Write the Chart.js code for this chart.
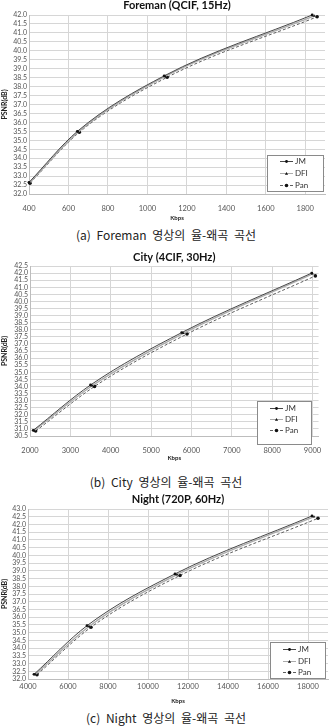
<!DOCTYPE html>
<html>
<head>
<meta charset="utf-8">
<script src="https://cdn.jsdelivr.net/npm/chart.js@4/dist/chart.umd.min.js"></script>
<style>
  body { margin: 0; background: #fff; width: 332px; height: 727px; position: relative; overflow: hidden; }
  .wrap { position: absolute; left: 0; width: 332px; }
  .cap { position: absolute; left: 0; width: 332px; text-align: center; font-family: "Noto Sans CJK KR"; font-size: 12px; line-height: 16px; color: #222; word-spacing: 3px; }
</style>
</head>
<body>
<div class="wrap" style="top:-2px;height:226px"><canvas id="foremanChart"></canvas></div>
<div class="cap" style="top:227px">(a) Foreman 영상의 율-왜곡 곡선</div>
<div class="wrap" style="top:247px;height:216px"><canvas id="cityChart"></canvas></div>
<div class="cap" style="top:474px">(b) City 영상의 율-왜곡 곡선</div>
<div class="wrap" style="top:489px;height:218px"><canvas id="nightChart"></canvas></div>
<div class="cap" style="top:710px">(c) Night 영상의 율-왜곡 곡선</div>

<script>
const seriesNames = ['JM', 'DFI', 'Pan'];

// Foreman (QCIF, 15Hz)
const foremanJmKbps = [400, 645, 1085, 1835];
const foremanJmPsnr = [32.65, 35.5, 38.6, 42.0];
const foremanDfiKbps = [402, 650, 1090, 1845];
const foremanDfiPsnr = [32.62, 35.47, 38.57, 41.95];
const foremanPanKbps = [405, 655, 1100, 1860];
const foremanPanPsnr = [32.6, 35.45, 38.52, 41.9];
const foremanXTicks = [400, 600, 800, 1000, 1200, 1400, 1600, 1800];

// City (4CIF, 30Hz)
const cityJmKbps = [2080, 3500, 5760, 8980];
const cityJmPsnr = [30.9, 34.1, 37.8, 42.0];
const cityDfiKbps = [2100, 3540, 5800, 9000];
const cityDfiPsnr = [30.88, 34.05, 37.75, 41.95];
const cityPanKbps = [2140, 3600, 5890, 9070];
const cityPanPsnr = [30.85, 34.0, 37.7, 41.8];
const cityXTicks = [2000, 3000, 4000, 5000, 6000, 7000, 8000, 9000];

// Night (720P, 60Hz)
const nightJmKbps = [4300, 6950, 11350, 18200];
const nightJmPsnr = [32.3, 35.45, 38.8, 42.55];
const nightDfiKbps = [4380, 7050, 11450, 18300];
const nightDfiPsnr = [32.3, 35.4, 38.75, 42.5];
const nightPanKbps = [4450, 7150, 11600, 18500];
const nightPanPsnr = [32.28, 35.35, 38.7, 42.4];
const nightXTicks = [4000, 6000, 8000, 10000, 12000, 14000, 16000, 18000];

const lineStyles = [
  { color: '#474747', dash: [], width: 1, point: 'circle', r: 1.4 },
  { color: '#ababab', dash: [], width: 1.4, point: 'triangle', r: 1.6 },
  { color: '#5e5e5e', dash: [3, 2], width: 1, point: 'circle', r: 1.8 }
];

function pts(xs, ys) {
  return xs.map((x, i) => ({ x: x, y: ys[i] }));
}

function marker(ctx, style, x, y, r) {
  ctx.fillStyle = '#111';
  ctx.beginPath();
  if (style === 'triangle') {
    ctx.moveTo(x, y - r); ctx.lineTo(x + r, y + r * 0.8); ctx.lineTo(x - r, y + r * 0.8);
    ctx.closePath();
  } else {
    ctx.arc(x, y, r, 0, Math.PI * 2);
  }
  ctx.fill();
}

// legend box inside the plot, like the Excel original
const boxLegend = {
  id: 'boxLegend',
  afterDatasetsDraw(chart, args, o) {
    const { ctx, chartArea: a } = chart;
    const x = Math.round(a.right - o.right - o.w), y = Math.round(a.bottom - o.bottom - o.h);
    ctx.save();
    ctx.fillStyle = '#fff';
    ctx.fillRect(x, y, o.w, o.h);
    ctx.strokeStyle = '#8a8a8a';
    ctx.lineWidth = 1;
    ctx.strokeRect(x + 0.5, y + 0.5, o.w, o.h);
    chart.data.datasets.forEach((d, i) => {
      const st = lineStyles[i];
      const cy = Math.round(y + o.rowTop + i * o.rowGap) + 0.5;
      ctx.strokeStyle = st.color;
      ctx.lineWidth = 1;
      ctx.setLineDash(st.dash);
      ctx.beginPath();
      ctx.moveTo(x + 13, cy);
      ctx.lineTo(x + 26, cy);
      ctx.stroke();
      ctx.setLineDash([]);
      marker(ctx, st.point, x + 19.5, cy, st.r);
      ctx.fillStyle = '#333';
      ctx.font = '8px Lato';
      ctx.textBaseline = 'middle';
      ctx.fillText(d.label, x + 28, cy);
    });
    ctx.restore();
  }
};

function makeChart(id, c) {
  const series = [pts(c.jmX, c.jmY), pts(c.dfiX, c.dfiY), pts(c.panX, c.panY)];
  return new Chart(document.getElementById(id), {
    type: 'scatter',
    data: {
      datasets: series.map((s, i) => ({
        label: seriesNames[i],
        data: s,
        showLine: true,
        cubicInterpolationMode: 'monotone',
        borderColor: lineStyles[i].color,
        borderWidth: lineStyles[i].width,
        borderDash: lineStyles[i].dash,
        pointStyle: lineStyles[i].point,
        pointRadius: lineStyles[i].r,
        pointBackgroundColor: '#111',
        pointBorderColor: '#111',
        pointBorderWidth: 0,
        clip: false
      }))
    },
    options: {
      responsive: true,
      maintainAspectRatio: false,
      animation: false,
      events: [],
      layout: { padding: { left: 0, right: c.padRight, top: 0, bottom: 0 } },
      plugins: {
        legend: { display: false },
        tooltip: { enabled: false },
        title: {
          display: true,
          text: c.title,
          fullSize: false,
          color: '#111',
          font: { family: 'Lato', size: 11, weight: 'bold', lineHeight: 1.2 },
          padding: { top: c.titleTop, bottom: c.titleBottom }
        },
        boxLegend: c.legend
      },
      scales: {
        x: {
          type: 'linear',
          min: c.xMin,
          max: c.xMax,
          afterBuildTicks: ax => { ax.ticks = c.xTicks.map(v => ({ value: v })); },
          afterFit: s => { s.height = c.xHeight; },
          grid: { color: '#d6d6d6', drawTicks: false },
          border: { color: '#bdbdbd' },
          ticks: { padding: c.xPad, maxRotation: 0, autoSkip: false, color: '#555', font: { family: 'Lato', size: 7.5 }, callback: v => String(v) },
          title: { display: true, text: 'Kbps', color: '#222', font: { family: 'Lato', size: 6, weight: 'bold', lineHeight: 1.2 }, padding: { top: 0, bottom: c.kbpsPad } }
        },
        y: {
          min: c.yMin,
          max: c.yMax,
          afterFit: s => { s.width = c.plotLeft; },
          grid: { color: '#d6d6d6', drawTicks: false },
          border: { color: '#bdbdbd' },
          ticks: { stepSize: 0.5, autoSkip: false, padding: 2, color: '#555', font: { family: 'Lato', size: 7 }, callback: v => v.toFixed(1) },
          title: { display: true, text: 'PSNR(dB)', color: '#222', font: { family: 'Lato', size: 7, weight: 'bold', lineHeight: 1.2 }, padding: { top: 1, bottom: 0 } }
        }
      }
    },
    plugins: [boxLegend]
  });
}

makeChart('foremanChart', {
  title: 'Foreman (QCIF, 15Hz)',
  jmX: foremanJmKbps, jmY: foremanJmPsnr, dfiX: foremanDfiKbps, dfiY: foremanDfiPsnr, panX: foremanPanKbps, panY: foremanPanPsnr,
  xMin: 400, xMax: 1900, xTicks: foremanXTicks, yMin: 32, yMax: 42,
  plotLeft: 29, padRight: 7, titleTop: 1, titleBottom: 2.8,
  xHeight: 30, xPad: 10.5, kbpsPad: 2.4,
  legend: { right: 2, bottom: 3, w: 56, h: 36, rowTop: 6, rowGap: 12 }
});

makeChart('cityChart', {
  title: 'City (4CIF, 30Hz)',
  jmX: cityJmKbps, jmY: cityJmPsnr, dfiX: cityDfiKbps, dfiY: cityDfiPsnr, panX: cityPanKbps, panY: cityPanPsnr,
  xMin: 2000, xMax: 9150, xTicks: cityXTicks, yMin: 30.5, yMax: 42.5,
  plotLeft: 30, padRight: 2, titleTop: 3.4, titleBottom: 2.4,
  xHeight: 27, xPad: 10.5, kbpsPad: 1.4,
  legend: { right: 8, bottom: -8, w: 54, h: 43, rowTop: 7, rowGap: 11 }
});

makeChart('nightChart', {
  title: 'Night (720P, 60Hz)',
  jmX: nightJmKbps, jmY: nightJmPsnr, dfiX: nightDfiKbps, dfiY: nightDfiPsnr, panX: nightPanKbps, panY: nightPanPsnr,
  xMin: 4000, xMax: 19000, xTicks: nightXTicks, yMin: 32, yMax: 43,
  plotLeft: 28, padRight: 4, titleTop: 3.4, titleBottom: 3.4,
  xHeight: 28, xPad: 3.5, kbpsPad: 2.4,
  legend: { right: 3, bottom: 1, w: 55, h: 36, rowTop: 7, rowGap: 11.5 }
});
</script>
</body>
</html>
